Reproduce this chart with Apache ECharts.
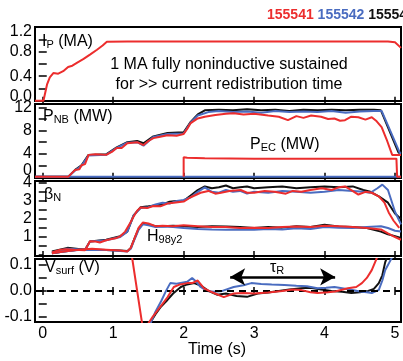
<!DOCTYPE html>
<html>
<head>
<meta charset="utf-8">
<script src="https://cdn.jsdelivr.net/npm/echarts@6/dist/echarts.min.js"></script>
<style>
  html, body { margin: 0; padding: 0; background: #fff; }
  #chart { width: 403px; height: 361px; }
</style>
</head>
<body>
<div id="chart"></div>
<script>
// shot colours
const RED = '#ec2d2d', BLUE = '#4a6cc0', BLACK = '#111';
const FONT = "'Liberation Sans', Arial, sans-serif";

// time axis
const timeTicks = [0, 1, 2, 3, 4, 5];

// Ip (MA)
const ipTime = [-0.11, 0.01, 0.06, 0.1, 0.15, 0.22, 0.29, 0.36, 0.42, 0.49, 0.58, 0.67, 0.77, 0.85, 0.91, 1.2, 1.6, 2.0, 2.5, 3.0, 3.5, 4.0, 4.5, 4.9, 5.0, 5.085];
const ipRed = [0, 0, 0.26, 0.38, 0.45, 0.44, 0.48, 0.55, 0.57, 0.62, 0.68, 0.75, 0.83, 0.9, 0.96, 0.965, 0.965, 0.962, 0.965, 0.963, 0.965, 0.963, 0.964, 0.962, 0.95, 0.86];

// PNB / PEC (MW)
const pnbRedTime = [-0.11, 0.36, 0.46, 0.52, 0.55, 0.6, 0.65, 0.75, 0.9, 0.98, 1.05, 1.12, 1.2, 1.34, 1.43, 1.5, 1.57, 1.65, 1.77, 1.9, 2.0, 2.05, 2.1, 2.2, 2.3, 2.45, 2.6, 2.71, 2.85, 3.0, 3.2, 3.35, 3.48, 3.6, 3.7, 3.81, 3.95, 4.05, 4.14, 4.22, 4.29, 4.38, 4.48, 4.58, 4.67, 4.74, 4.81, 4.88, 4.96, 5.085];
const pnbRed = [0, 0, 1.2, 1.3, 2.0, 2.2, 3.8, 3.9, 3.8, 4.3, 5.0, 5.0, 5.8, 6.0, 5.5, 6.2, 6.7, 6.9, 7.2, 7.1, 7.4, 8.3, 9.3, 10.1, 10.4, 10.7, 10.9, 11.0, 10.8, 10.9, 10.6, 10.4, 9.8, 10.5, 10.2, 10.6, 10.4, 10.0, 10.1, 9.7, 9.8, 10.4, 10.3, 9.9, 10.3, 9.6, 8.6, 6.5, 3.8, 3.8];
const pnbBlackTime = [-0.11, 0.36, 0.46, 0.55, 0.65, 0.9, 1.05, 1.2, 1.34, 1.43, 1.57, 1.77, 2.0, 2.1, 2.2, 2.3, 2.5, 2.7, 2.9, 3.1, 3.3, 3.5, 3.7, 3.9, 4.1, 4.3, 4.5, 4.7, 4.8, 5.05, 5.085];
const pnbBlack = [0, 0, 1.2, 2.0, 3.8, 3.9, 5.1, 6.0, 6.2, 5.8, 7.0, 7.6, 7.7, 9.5, 10.8, 11.5, 11.6, 11.5, 11.7, 11.5, 11.6, 11.4, 11.6, 11.5, 11.6, 11.5, 11.6, 11.6, 11.5, 4.2, 4.0];
const pnbBlueTime = [-0.11, 0.36, 0.46, 0.55, 0.65, 0.9, 1.05, 1.2, 1.34, 1.43, 1.57, 1.77, 2.0, 2.1, 2.2, 2.35, 2.5, 2.7, 2.9, 3.1, 3.3, 3.5, 3.7, 3.9, 4.1, 4.3, 4.5, 4.7, 4.81, 5.07, 5.085];
const pnbBlue = [0, 0, 1.1, 1.9, 3.7, 3.8, 5.0, 5.9, 6.0, 5.4, 6.9, 7.4, 7.5, 9.4, 10.6, 11.2, 11.4, 11.2, 11.3, 11.1, 11.4, 11.2, 11.3, 11.2, 11.4, 11.1, 11.3, 11.4, 11.4, 4.1, 4.0];
const pecRedTime = [2.0, 2.0, 2.05, 2.3, 3.0, 4.0, 5.02, 5.03, 5.085];
const pecRed = [0, 3.4, 3.3, 3.2, 3.15, 3.15, 3.15, 0, 0];
const pecBlueTime = [-0.11, 5.085];
const pecBlue = [0, 0];

// betaN
const betaRedTime = [0.13, 0.25, 0.34, 0.45, 0.6, 0.67, 0.75, 0.81, 0.9, 0.96, 1.05, 1.1, 1.17, 1.23, 1.29, 1.34, 1.39, 1.48, 1.57, 1.67, 1.77, 1.86, 2.0, 2.1, 2.24, 2.35, 2.45, 2.53, 2.65, 2.81, 2.9, 3.0, 3.15, 3.29, 3.45, 3.55, 3.67, 3.8, 3.96, 4.1, 4.2, 4.29, 4.38, 4.48, 4.58, 4.67, 4.77, 4.85, 4.91, 4.98, 5.06];
const betaRed = [0.15, 0.3, 0.33, 0.3, 0.27, 0.77, 0.75, 0.7, 0.82, 0.88, 0.95, 1.04, 1.3, 1.7, 2.14, 2.45, 2.63, 2.6, 2.72, 2.7, 2.85, 2.9, 2.96, 3.2, 3.45, 3.55, 3.4, 3.45, 3.55, 3.6, 3.45, 3.45, 3.55, 3.5, 3.4, 3.55, 3.5, 3.6, 3.7, 3.6, 3.75, 3.8, 3.6, 3.35, 3.5, 3.45, 3.25, 2.9, 2.36, 1.9, 1.5];
const betaBlackTime = [0.13, 0.35, 0.6, 0.67, 0.9, 1.1, 1.2, 1.29, 1.39, 1.5, 1.6, 1.7, 1.8, 1.9, 2.0, 2.1, 2.2, 2.3, 2.4, 2.5, 2.6, 2.7, 2.8, 2.9, 3.0, 3.2, 3.4, 3.6, 3.8, 4.0, 4.2, 4.4, 4.55, 4.65, 4.77, 4.9, 5.0, 5.085];
const betaBlack = [0.2, 0.4, 0.3, 0.75, 0.85, 1.05, 1.3, 2.2, 2.65, 2.7, 2.75, 2.8, 2.95, 3.0, 3.0, 3.3, 3.6, 3.8, 3.7, 3.75, 3.85, 3.7, 3.75, 3.8, 3.7, 3.75, 3.8, 3.7, 3.75, 3.8, 3.75, 3.8, 3.6, 3.5, 3.25, 2.9, 2.3, 2.0];
const betaBlueTime = [0.13, 0.35, 0.6, 0.67, 0.9, 1.1, 1.2, 1.29, 1.39, 1.5, 1.6, 1.7, 1.8, 1.9, 2.0, 2.1, 2.2, 2.3, 2.4, 2.5, 2.6, 2.7, 2.8, 2.9, 3.0, 3.2, 3.4, 3.6, 3.8, 4.0, 4.2, 4.4, 4.55, 4.65, 4.75, 4.82, 4.9, 5.0, 5.085];
const betaBlue = [0.15, 0.35, 0.3, 0.75, 0.82, 1.0, 1.3, 2.2, 2.6, 2.65, 2.8, 2.9, 2.85, 3.0, 3.05, 3.2, 3.5, 3.75, 3.5, 3.45, 3.6, 3.5, 3.55, 3.4, 3.5, 3.45, 3.55, 3.5, 3.45, 3.5, 3.6, 3.55, 3.5, 3.45, 3.7, 3.9, 3.6, 2.4, 1.7];

// H98y2
const hTime = [0.13, 0.3, 0.5, 0.7, 0.9, 1.1, 1.2, 1.25, 1.3, 1.36, 1.42, 1.5, 1.6, 1.7, 1.85, 2.0, 2.2, 2.4, 2.6, 2.8, 3.0, 3.2, 3.4, 3.6, 3.8, 4.0, 4.2, 4.4, 4.6, 4.8, 4.9, 5.0, 5.085];
const hRed = [0.1, 0.2, 0.3, 0.35, 0.3, 0.25, 0.2, 0.4, 0.9, 1.5, 1.8, 1.75, 1.6, 1.62, 1.6, 1.65, 1.6, 1.55, 1.55, 1.5, 1.52, 1.5, 1.55, 1.58, 1.55, 1.62, 1.6, 1.55, 1.5, 1.42, 1.2, 1.0, 0.85];
const hBlack = [0.1, 0.2, 0.3, 0.3, 0.28, 0.25, 0.22, 0.4, 0.9, 1.45, 1.75, 1.7, 1.6, 1.6, 1.62, 1.6, 1.55, 1.6, 1.58, 1.55, 1.5, 1.55, 1.52, 1.6, 1.55, 1.68, 1.58, 1.55, 1.5, 1.3, 1.15, 1.05, 0.95];
const hBlue = [0.1, 0.2, 0.28, 0.3, 0.28, 0.22, 0.2, 0.35, 0.85, 1.4, 1.7, 1.65, 1.55, 1.58, 1.55, 1.5, 1.45, 1.42, 1.4, 1.42, 1.4, 1.45, 1.42, 1.48, 1.45, 1.55, 1.52, 1.5, 1.55, 1.6, 1.5, 1.35, 1.3];

// Vsurf (V)
const vRedTime = [1.2, 1.27, 1.41, 1.45, 1.5, 1.56, 1.63, 1.7, 1.77, 1.86, 1.95, 2.05, 2.12, 2.2, 2.29, 2.36, 2.43, 2.57, 2.71, 2.85, 3.0, 3.2, 3.4, 3.55, 3.67, 3.8, 3.9, 4.05, 4.15, 4.33, 4.45, 4.53, 4.6, 4.67, 4.74, 4.8];
const vRed = [0.3, 0.125, -0.125, -0.2, -0.125, -0.1, -0.075, -0.05, -0.025, 0.015, 0.025, 0.03, 0.03, 0.04, 0.01, 0.0, -0.008, -0.024, -0.01, -0.008, -0.01, -0.006, 0.0, 0.005, 0.003, -0.005, -0.008, -0.005, -0.002, 0.01, 0.015, 0.03, 0.05, 0.08, 0.125, 0.2];
const vBlackTime = [1.45, 1.52, 1.6, 1.68, 1.77, 1.85, 1.96, 2.05, 2.15, 2.25, 2.35, 2.48, 2.6, 2.75, 2.9, 3.05, 3.2, 3.35, 3.5, 3.67, 3.8, 3.95, 4.1, 4.25, 4.38, 4.5, 4.62, 4.7, 4.77, 4.82, 4.86, 4.9, 4.95];
const vBlack = [-0.2, -0.125, -0.09, -0.06, -0.035, -0.01, 0.015, 0.025, 0.03, 0.02, 0.0, -0.015, -0.01, -0.02, -0.023, -0.01, -0.006, 0.0, 0.005, 0.01, 0.012, 0.005, 0.0, -0.003, -0.008, -0.005, 0.0, 0.008, 0.03, 0.06, 0.11, 0.14, 0.2];
const vBlueTime = [1.45, 1.53, 1.6, 1.68, 1.75, 1.81, 1.9, 2.05, 2.12, 2.18, 2.24, 2.33, 2.43, 2.55, 2.71, 2.85, 2.96, 3.1, 3.25, 3.43, 3.6, 3.75, 3.9, 4.02, 4.14, 4.25, 4.38, 4.5, 4.6, 4.67, 4.77, 4.82, 4.86, 4.92, 4.96, 5.0];
const vBlue = [-0.2, -0.125, -0.08, -0.04, 0.0, 0.03, 0.028, 0.035, 0.05, 0.035, 0.015, 0.0, -0.003, 0.0, 0.015, 0.022, 0.03, 0.027, 0.025, 0.023, 0.02, 0.018, 0.01, 0.012, 0.015, 0.01, 0.004, -0.002, -0.005, -0.008, 0.004, 0.04, 0.08, 0.11, 0.13, 0.2];

// tau_R arrow span (s) and height (V)
const tauR = [2.66, 4.15];
const tauRLevel = 0.054;

// y-axis ticks per panel
const panels = [
  { top: 27,  height: 74, min: -0.005, max: 1.2,  labels: [0, 0.4, 0.8, 1.2], ticks: [0, 0.2, 0.4, 0.6, 0.8, 1.0, 1.2], digits: 1, shift: { 0: 'u', 1.2: 'd' } },
  { top: 104, height: 74, min: -0.2,   max: 12.6, labels: [0, 4, 8, 12], ticks: [0, 2, 4, 6, 8, 10, 12], digits: 0, shift: { 0: 'u2' } },
  { top: 181, height: 75, min: -0.05,  max: 4.1,  labels: [0, 1, 2, 3, 4], ticks: [0, 0.5, 1, 1.5, 2, 2.5, 3, 3.5, 4], digits: 0, shift: { 0: 'u' } },
  { top: 259, height: 63, min: -0.12,  max: 0.123, labels: [-0.1, 0, 0.1], ticks: [-0.1, -0.05, 0, 0.05, 0.1], digits: 1, shift: {} }
];

const zip = (t, v) => t.map((x, i) => [x, v[i]]);

const tickStyle = { show: true, inside: true, length: 4, lineStyle: { color: '#000', width: 1.5 } };
const labelRich = {
  u:  { fontFamily: FONT, fontSize: 16, color: '#000', padding: [0, 0, 9, 0] },
  u2: { fontFamily: FONT, fontSize: 16, color: '#000', padding: [0, 0, 13, 0] },
  d:  { fontFamily: FONT, fontSize: 16, color: '#000', padding: [9, 0, 0, 0] }
};

const grid = [], xAxis = [], yAxis = [];
panels.forEach((p, i) => {
  grid.push({ left: 35, right: 2, top: p.top, height: p.height, show: true, borderColor: '#000', borderWidth: 2, containLabel: false });
  xAxis.push({
    type: 'value', gridIndex: i, min: -0.11, max: 5.085, position: 'bottom',
    axisLine: { show: false }, splitLine: { show: false },
    axisTick: Object.assign({ customValues: timeTicks }, tickStyle),
    axisLabel: { show: i === 3, customValues: timeTicks, fontFamily: FONT, fontSize: 16, color: '#000', margin: 4 }
  });
  xAxis.push({
    type: 'value', gridIndex: i, min: -0.11, max: 5.085, position: 'top',
    axisLine: { show: false }, splitLine: { show: false },
    axisTick: Object.assign({ customValues: timeTicks }, tickStyle),
    axisLabel: { show: false }
  });
  yAxis.push({
    type: 'value', gridIndex: i, min: p.min, max: p.max, position: 'left',
    axisLine: { show: false }, splitLine: { show: false },
    axisTick: Object.assign({ customValues: p.ticks }, tickStyle),
    axisLabel: {
      customValues: p.labels, fontFamily: FONT, fontSize: 16, color: '#000', margin: 3,
      rich: labelRich,
      formatter: (v) => {
        const s = Math.abs(v) < 1e-9 ? (0).toFixed(p.digits) : v.toFixed(p.digits);
        const key = Object.keys(p.shift).find(k => Math.abs(parseFloat(k) - v) < 1e-9);
        return key !== undefined ? '{' + p.shift[key] + '|' + s + '}' : s;
      }
    }
  });
  yAxis.push({
    type: 'value', gridIndex: i, min: p.min, max: p.max, position: 'right',
    axisLine: { show: false }, splitLine: { show: false },
    axisTick: Object.assign({ customValues: p.ticks }, tickStyle),
    axisLabel: { show: false }
  });
});

function line(panel, t, v, color, z) {
  return {
    type: 'line', xAxisIndex: panel * 2, yAxisIndex: panel * 2,
    data: zip(t, v), showSymbol: false, symbol: 'none', clip: true, z: z,
    lineStyle: { color: color, width: 2 }, silent: true
  };
}

const series = [
  line(0, ipTime, ipRed, RED, 5),

  line(1, pecBlueTime, pecBlue, BLUE, 3),
  line(1, pnbBlackTime, pnbBlack, BLACK, 2),
  line(1, pnbBlueTime, pnbBlue, BLUE, 3),
  line(1, pnbRedTime, pnbRed, RED, 5),
  line(1, pecRedTime, pecRed, RED, 5),

  line(2, betaBlackTime, betaBlack, BLACK, 2),
  line(2, hTime, hBlack, BLACK, 2),
  line(2, betaBlueTime, betaBlue, BLUE, 3),
  line(2, hTime, hBlue, BLUE, 3),
  line(2, betaRedTime, betaRed, RED, 5),
  line(2, hTime, hRed, RED, 5),

  {
    type: 'line', xAxisIndex: 6, yAxisIndex: 6, data: [], silent: true, z: 1,
    markLine: {
      silent: true, symbol: 'none', label: { show: false }, animation: false,
      lineStyle: { color: '#000', width: 2, type: [7, 5] },
      data: [{ yAxis: 0 }]
    }
  },
  {
    type: 'line', xAxisIndex: 6, yAxisIndex: 6, data: [], silent: true, z: 1,
    markLine: {
      silent: true, symbol: ['arrow', 'arrow'], symbolSize: [13, 15], label: { show: false }, animation: false,
      lineStyle: { color: '#000', width: 2.5, type: 'solid' },
      itemStyle: { color: '#000' },
      data: [[{ coord: [tauR[0], tauRLevel] }, { coord: [tauR[1], tauRLevel] }]]
    }
  },
  line(3, vBlackTime, vBlack, BLACK, 2),
  line(3, vBlueTime, vBlue, BLUE, 3),
  line(3, vRedTime, vRed, RED, 5)
];

const main = { fontFamily: FONT, fontSize: 16, fill: '#000', verticalAlign: 'top', lineHeight: 16 };
const sub = { fontFamily: FONT, fontSize: 11, fill: '#000', padding: [7, 0, 0, 0], verticalAlign: 'bottom', lineHeight: 11 };

function label(x, y, text, extra) {
  return {
    type: 'text', x: x, y: y, z: 50, silent: true,
    style: Object.assign({ text: text, fontFamily: FONT, fontSize: 16, fill: '#000', verticalAlign: 'middle', rich: { m: main, s: sub } }, extra || {})
  };
}

const shotRich = {
  r: { fontFamily: FONT, fontSize: 14, fontWeight: 'bold', fill: RED },
  b: { fontFamily: FONT, fontSize: 14, fontWeight: 'bold', fill: BLUE },
  k: { fontFamily: FONT, fontSize: 14, fontWeight: 'bold', fill: BLACK }
};

const graphic = [
  label(267, 15, '{r|155541} {b|155542} {k|155543}', { rich: shotRich, fontSize: 14, fontWeight: 'bold' }),
  label(229, 65, '1 MA fully noninductive sustained', { align: 'center' }),
  label(229, 85, 'for >> current redistribution time', { align: 'center' }),
  label(42, 42, '{m|I}{s|P}{m| (MA)}'),
  label(43, 117, '{m|P}{s|NB}{m| (MW)}'),
  label(250, 145, '{m|P}{s|EC}{m| (MW)}'),
  label(44, 195, '{m|β}{s|N}'),
  label(147, 237, '{m|H}{s|98y2}'),
  label(45, 268, '{m|V}{s|surf}{m| (V)}'),
  label(270, 268, '{m|τ}{s|R}'),
  label(217, 350, 'Time (s)', { align: 'center' })
];

const chart = echarts.init(document.getElementById('chart'), null, { renderer: 'canvas' });
chart.setOption({
  animation: false,
  backgroundColor: '#fff',
  grid: grid,
  xAxis: xAxis,
  yAxis: yAxis,
  series: series,
  graphic: graphic
});
</script>
</body>
</html>
